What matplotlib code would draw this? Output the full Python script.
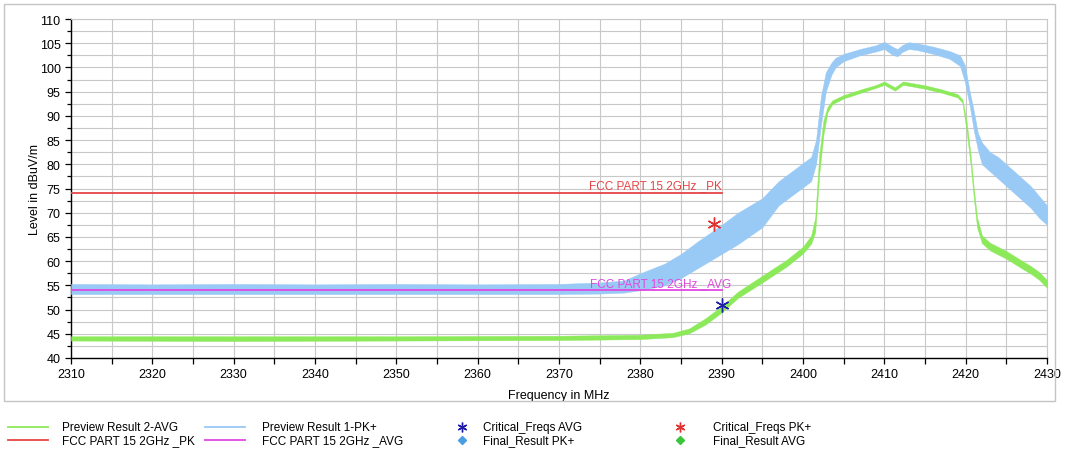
import numpy as np
import matplotlib
matplotlib.use("Agg")
import matplotlib.pyplot as plt
from matplotlib.lines import Line2D
from matplotlib.patches import Rectangle

plt.rcParams['font.family'] = ['Liberation Sans', 'DejaVu Sans']

# Preview Result 1-PK+ (band: lower / upper envelope of the noisy trace)
f_pk = [2310, 2320, 2330, 2340, 2350, 2360, 2370, 2375, 2378, 2380, 2383, 2385, 2387,
        2390, 2392, 2395, 2397, 2399, 2401, 2401.6, 2402.2, 2402.8, 2403.5, 2404, 2405,
        2407, 2409, 2410, 2411, 2411.6, 2412.2, 2413, 2414, 2416, 2418, 2419.3, 2419.9,
        2420.5, 2421, 2421.5, 2422, 2423, 2424, 2425, 2426, 2427, 2428, 2429, 2430]
pk_lo = [53.2, 53.2, 53.2, 53.2, 53.2, 53.2, 53.2, 53.3, 53.5, 54.0, 55.0, 56.5, 58.5,
         61.5, 63.5, 67.0, 71.5, 74.0, 76.5, 80.0, 88.0, 95.0, 98.5, 100.0, 101.3,
         102.5, 103.3, 103.8, 102.6, 102.3, 103.2, 103.8, 103.6, 102.8, 101.8, 100.3, 97.0,
         92.0, 87.0, 83.0, 80.0, 78.5, 77.0, 75.5, 74.0, 72.5, 71.0, 69.0, 67.5]
pk_hi = [55.3, 55.2, 55.3, 55.2, 55.3, 55.2, 55.3, 55.6, 56.0, 57.5, 59.5, 61.5, 64.0,
         67.5, 70.0, 73.0, 76.5, 79.0, 81.5, 85.0, 94.0, 99.0, 101.0, 102.0, 102.8,
         103.8, 104.6, 105.3, 104.3, 103.8, 104.6, 105.2, 105.0, 104.3, 103.4, 102.5, 100.5,
         95.0, 91.0, 86.5, 84.5, 82.5, 81.5, 80.0, 78.5, 77.0, 75.5, 73.5, 71.5]

# Preview Result 2-AVG
f_av = [2310, 2330, 2350, 2370, 2380, 2384, 2386, 2388, 2390, 2392, 2395, 2398, 2400,
        2401, 2401.5, 2402, 2402.5, 2403, 2403.6, 2405, 2407, 2409, 2410, 2411.3, 2412.3,
        2413, 2415, 2417, 2419, 2419.6, 2420.1, 2420.6, 2421, 2421.4, 2422, 2423, 2425,
        2427, 2428, 2429, 2430]
av_lo = [43.6, 43.5, 43.6, 43.7, 43.9, 44.3, 45.1, 46.9, 49.4, 52.4, 55.6, 58.9, 61.6,
         63.6, 66.0, 78.0, 86.0, 90.7, 92.4, 93.6, 94.7, 95.8, 96.4, 95.2, 96.4,
         96.2, 95.6, 94.8, 93.8, 92.7, 87.0, 80.0, 73.0, 67.0, 63.7, 62.2, 60.5,
         58.4, 57.4, 56.2, 54.5]
av_hi = [44.5, 44.5, 44.5, 44.6, 44.8, 45.2, 46.1, 48.2, 50.7, 53.7, 57.0, 60.3, 63.0,
         65.3, 69.0, 82.0, 89.0, 91.8, 93.2, 94.3, 95.4, 96.4, 97.1, 95.9, 97.1,
         96.9, 96.3, 95.5, 94.5, 93.4, 89.0, 82.0, 75.0, 69.0, 65.3, 63.8, 62.1,
         60.0, 59.0, 57.8, 56.1]

# limit lines and critical frequencies
lim_f = [2310, 2390]
lim_pk = 74.0
lim_avg = 54.0
crit_avg = (2390.0, 50.9)
crit_pk = (2389.0, 67.7)

c_pk = '#99c9f5'
c_av = '#8cea5a'
c_red = '#e64545'
c_pink = '#e048e0'
c_grid = '#c8c8c8'

fig = plt.figure(figsize=(10.65, 4.52), dpi=100)
fig.add_artist(Rectangle((0.004, 1 - 402 / 452), 0.987, (402 - 5) / 452,
                         transform=fig.transFigure, fill=False, edgecolor='#c4c4c4', lw=1.0))
ax = fig.add_axes([71 / 1065, 1 - 359 / 452, (1047 - 71) / 1065, (359 - 20) / 452])

ax.fill_between(f_pk, pk_lo, pk_hi, color=c_pk, lw=0.3, zorder=3)
ax.fill_between(f_av, av_lo, av_hi, color=c_av, lw=0.3, zorder=4)

ax.plot(lim_f, [lim_pk, lim_pk], color=c_red, lw=1.3, zorder=5)
ax.plot(lim_f, [lim_avg, lim_avg], color=c_pink, lw=1.3, zorder=5)
ax.text(2390, lim_pk + 0.4, 'FCC PART 15 2GHz _PK', color=c_red, fontsize=8.5,
        ha='right', va='bottom', zorder=6)
ax.text(2391.2, lim_avg + 0.3, 'FCC PART 15 2GHz _AVG', color=c_pink, fontsize=8.5,
        ha='right', va='bottom', zorder=6)

ax.plot(*crit_avg, marker=(6, 2, 0), ms=10, color='#1c1ca8', mew=1.0, ls='none', zorder=7)
ax.plot(*crit_pk, marker=(6, 2, 0), ms=10, color='#e03030', mew=1.0, ls='none', zorder=7)

ax.set_xlim(2310, 2430)
ax.set_ylim(40, 110)
ax.set_xticks(np.arange(2310, 2431, 10))
ax.set_xticks(np.arange(2310, 2431, 5), minor=True)
ax.set_yticks(np.arange(40, 111, 5))
ax.set_yticks(np.arange(40, 111, 2.5), minor=True)
ax.grid(True, which='both', color=c_grid, lw=0.8, zorder=0)
ax.set_axisbelow(True)
ax.tick_params(which='both', direction='out', length=4, width=0.9, labelsize=9, colors='black')
ax.tick_params(axis='y', which='minor', length=3)
ax.tick_params(axis='x', which='minor', length=4)
for s in ['top', 'right']:
    ax.spines[s].set_color(c_grid)
for s in ['left', 'bottom']:
    ax.spines[s].set_color('black')
    ax.spines[s].set_linewidth(1.0)

ax.set_xlabel('Frequency in MHz', fontsize=9, labelpad=6)
ax.set_ylabel('Level in dBuV/m', fontsize=9, labelpad=-1)

# legend drawn by hand under the frame
rows = [1 - 428 / 452, 1 - 441 / 452]
legend_items = [
    ('line', c_av, 'Preview Result 2-AVG', 8, 62, 0),
    ('line', c_red, 'FCC PART 15 2GHz _PK', 8, 62, 1),
    ('line', c_pk, 'Preview Result 1-PK+', 205, 262, 0),
    ('line', c_pink, 'FCC PART 15 2GHz _AVG', 205, 262, 1),
    ('star', '#1c1ca8', 'Critical_Freqs AVG', 462, 483, 0),
    ('dia', '#4a9de0', 'Final_Result PK+', 462, 483, 1),
    ('star', '#e03030', 'Critical_Freqs PK+', 680, 713, 0),
    ('dia', '#3cc43c', 'Final_Result AVG', 680, 713, 1),
]
for kind, col, label, hx, tx, r in legend_items:
    y = rows[r]
    if kind == 'line':
        fig.add_artist(Line2D([hx / 1065, (hx + 40) / 1065], [y, y], color=col,
                              lw=1.3, transform=fig.transFigure))
    elif kind == 'star':
        fig.add_artist(Line2D([hx / 1065], [y], marker=(6, 2, 0), ms=7, mew=1.0,
                              color=col, transform=fig.transFigure))
    else:
        fig.add_artist(Line2D([hx / 1065], [y], marker='D', ms=4, color=col,
                              transform=fig.transFigure))
    fig.text(tx / 1065, y, label, fontsize=8.5, va='center', ha='left')

fig.savefig('out.png', dpi=100)
